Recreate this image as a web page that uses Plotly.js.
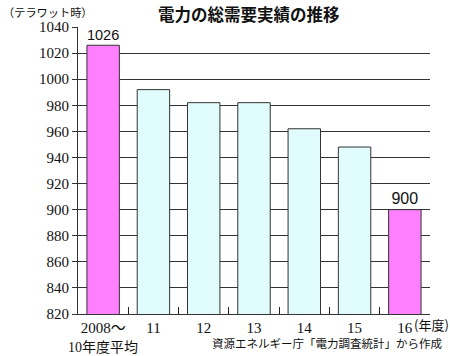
<!DOCTYPE html>
<html>
<head>
<meta charset="utf-8">
<script src="https://cdn.plot.ly/plotly-3.0.1.min.js"></script>
<style>html,body{margin:0;padding:0;background:#fff;}#chart{width:450px;height:356px;}</style>
</head>
<body>
<div id="chart"></div>
<script>
// Data
const categories = ["2008〜", "11", "12", "13", "14", "15", "16"];
const values = [1026, 992, 982, 982, 962, 948, 900];
const labels = ["1026", "", "", "", "", "", "900"];
const barColors = ["#ff80ff", "#e0fcfc", "#e0fcfc", "#e0fcfc", "#e0fcfc", "#e0fcfc", "#ff80ff"];
const yTicks = [820, 840, 860, 880, 900, 920, 940, 960, 980, 1000, 1020, 1040];

const numFont = "Liberation Serif, 'Noto Sans CJK JP', serif";
const jpFont = "'Noto Sans CJK JP', sans-serif";

const trace = {
  type: "bar",
  x: categories,
  y: values,
  text: labels,
  textposition: "outside",
  cliponaxis: false,
  textfont: {family: "Liberation Sans, Arial, sans-serif", size: 16, color: "#111"},
  marker: {color: barColors, line: {color: "#333", width: 1}},
  hoverinfo: "none"
};

const layout = {
  width: 450, height: 356,
  margin: {l: 77.6, r: 19.6, t: 26.7, b: 42},
  paper_bgcolor: "#fff", plot_bgcolor: "#fff",
  showlegend: false,
  bargap: 0.355,
  xaxis: {
    type: "category",
    categoryorder: "array", categoryarray: categories,
    range: [-0.5, 6.5],
    tickangle: 0,
    showgrid: false,
    showline: true, linecolor: "#333", linewidth: 1,
    ticks: "inside", tickson: "boundaries", ticklen: 7, tickcolor: "#222", tickwidth: 1.2,
    tickfont: {family: numFont, size: 15, color: "#111"},
    zeroline: false
  },
  yaxis: {
    range: [820, 1040],
    tickvals: yTicks,
    ticktext: yTicks.map(String),
    showgrid: true, gridcolor: "#333", gridwidth: 1,
    showline: true, linecolor: "#333", linewidth: 1,
    ticks: "outside", ticklen: 5, tickcolor: "#333",
    ticklabelstandoff: 0,
    tickfont: {family: numFont, size: 15, color: "#111"},
    zeroline: false
  },
  annotations: [
    {text: "電力の総需要実績の推移", xref: "paper", yref: "paper", x: (249 - 77.6) / 352.8, y: 1, yshift: 13, xanchor: "center", yanchor: "middle", showarrow: false,
     font: {family: jpFont, size: 16.5, color: "#111", weight: "bold"}},
    {text: "（テラワット時）", xref: "paper", yref: "paper", x: -77.6 / 352.8, y: 1, yshift: 15.5, xanchor: "left", yanchor: "middle", showarrow: false,
     font: {family: jpFont, size: 11.2, color: "#111"}},
    {text: "10年度平均", xref: "x", yref: "paper", x: categories[0], y: 0, yshift: -33, xanchor: "center", yanchor: "middle", showarrow: false,
     font: {family: numFont, size: 14, color: "#111"}},
    {text: "(年度)", xref: "paper", yref: "paper", x: (412 - 77.6) / 352.8, y: 0, yshift: -10, xanchor: "left", yanchor: "middle", showarrow: false,
     font: {family: jpFont, size: 13, color: "#111"}},
    {text: "資源エネルギー庁「電力調査統計」から作成", xref: "paper", yref: "paper", x: (444 - 77.6) / 352.8, y: 0, yshift: -29, xanchor: "right", yanchor: "middle", showarrow: false,
     font: {family: jpFont, size: 11.5, color: "#111"}}
  ]
};

Plotly.newPlot("chart", [trace], layout, {staticPlot: true, displayModeBar: false});
</script>
</body>
</html>
